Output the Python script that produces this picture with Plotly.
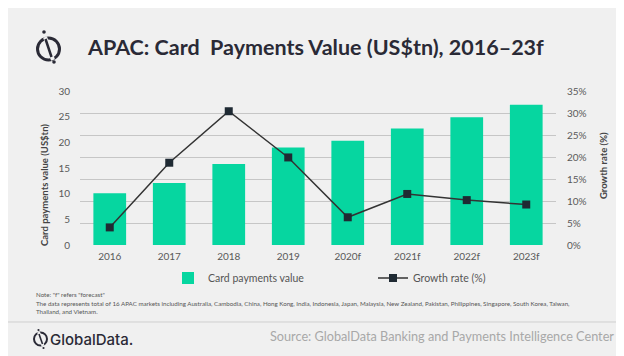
import plotly.graph_objects as go

years = ["2016", "2017", "2018", "2019", "2020f", "2021f", "2022f", "2023f"]
card_value = [10.1, 12.1, 15.8, 19.0, 20.3, 22.7, 24.9, 27.3]
growth_rate = [4.0, 18.7, 30.4, 19.9, 6.3, 11.6, 10.2, 9.2]
left_ticks = [0, 5, 10, 15, 20, 25, 30]
right_ticks = [0, 5, 10, 15, 20, 25, 30, 35]
right_tick_labels = [f"{v}%" for v in right_ticks]

W, H = 624, 356
L, R, T, B = 72, 548, 83, 237
BG = "#f0f0f0"
DARK = "#2a2a36"
FONT = "Lato"


def px(x):
    return (x - L) / (R - L)


def py(y):
    return (B - y) / (B - T)


fig = go.Figure()
fig.add_trace(go.Bar(
    x=years, y=card_value, name="Card payments value",
    marker=dict(color="#06d6a0", line=dict(width=0)), yaxis="y",
))
fig.add_trace(go.Scatter(
    x=years, y=growth_rate, name="Growth rate (%)", mode="lines+markers",
    line=dict(color="#333333", width=1.5),
    marker=dict(symbol="square", size=8, color="#1f2a33"),
    yaxis="y2",
))

tick_font = dict(family=FONT, size=10, color="#595959")

fig.update_layout(
    width=W, height=H,
    margin=dict(l=L, r=W - R, t=T, b=H - B, pad=0),
    paper_bgcolor=BG, plot_bgcolor=BG,
    bargap=0.45,
    showlegend=True,
    legend=dict(
        orientation="h", x=px(160), y=py(270), xanchor="left", yanchor="middle",
        font=dict(family=FONT, size=10.5, color="#555555"),
        bgcolor="rgba(0,0,0,0)", entrywidth=160, entrywidthmode="pixels",
        itemwidth=30, traceorder="normal",
    ),
    xaxis=dict(
        type="category", showgrid=False, zeroline=False, showline=False,
        ticks="", tickfont=tick_font, ticklabelstandoff=4,
    ),
    yaxis=dict(
        range=[0, 30], tickvals=left_ticks, ticktext=[str(v) for v in left_ticks],
        showgrid=False, zeroline=False, showline=False, ticks="",
        tickfont=tick_font, ticklabelstandoff=9,
    ),
    yaxis2=dict(
        range=[0, 35], tickvals=right_ticks, ticktext=right_tick_labels,
        overlaying="y", side="right", showgrid=True, gridcolor="#c6c6c6",
        gridwidth=1, zeroline=False, showline=False, ticks="",
        tickfont=tick_font, ticklabelstandoff=10,
    ),
)


def ann(text, x, y, **kw):
    d = dict(text=text, x=px(x), y=py(y), xref="paper", yref="paper",
             showarrow=False, xanchor="left", yanchor="middle")
    d.update(kw)
    return d


note_font = dict(family=FONT, size=6.2, color="#555555")
annotations = [
    ann("APAC: Card  Payments Value (US$tn), 2016–23f", 77, 39,
        font=dict(family=FONT, size=21.5, color=DARK, weight="bold")),
    ann("Card payments value (US$tn)", 36, 177, textangle=-90, xanchor="center",
        font=dict(family=FONT, size=9.5, color="#444444", weight="bold")),
    ann("Growth rate (%)", 595, 158, textangle=-90, xanchor="center",
        font=dict(family=FONT, size=9.5, color="#444444", weight="bold")),
    ann("Note: \"f\" refers \"forecast\"", 26, 286, font=note_font),
    ann("The data represents total of 16 APAC markets including Australia, Cambodia, China, Hong Kong, India, Indonesia, Japan, Malaysia, New Zealand, Pakistan, Philippines, Singapore, South Korea, Taiwan,",
        26, 295, font=note_font),
    ann("Thailand, and Vietnam.", 26, 303, font=note_font),
    ann("GlobalData.", 40, 331,
        font=dict(family="Inter", size=15, color=DARK, weight=500)),
    ann("Source: GlobalData Banking and Payments Intelligence Center", 608, 328,
        xanchor="right", font=dict(family=FONT, size=12.7, color="#a8a8a8")),
]
fig.update_layout(annotations=annotations)

shapes = []
# top logo icon
cx, cy, r = 40.5, 41, 11
shapes.append(dict(type="circle", xref="paper", yref="paper",
                   x0=px(cx - r), x1=px(cx + r), y0=py(cy + r), y1=py(cy - r),
                   line=dict(color=DARK, width=3)))
shapes.append(dict(type="line", xref="paper", yref="paper",
                   x0=px(37), y0=py(29), x1=px(45), y1=py(52),
                   line=dict(color=BG, width=4)))
shapes.append(dict(type="line", xref="paper", yref="paper",
                   x0=px(37.5), y0=py(31), x1=px(43.5), y1=py(49),
                   line=dict(color=DARK, width=2.5)))
for (dx, dy) in [(36, 24), (46, 54)]:
    shapes.append(dict(type="circle", xref="paper", yref="paper",
                       x0=px(dx - 1.8), x1=px(dx + 1.8), y0=py(dy + 1.8), y1=py(dy - 1.8),
                       fillcolor=DARK, line=dict(width=0)))
# bottom logo icon
bx, by, br = 32.5, 331, 6.5
shapes.append(dict(type="circle", xref="paper", yref="paper",
                   x0=px(bx - br), x1=px(bx + br), y0=py(by + br), y1=py(by - br),
                   line=dict(color=DARK, width=2)))
shapes.append(dict(type="line", xref="paper", yref="paper",
                   x0=px(30.5), y0=py(324), x1=px(35), y1=py(338),
                   line=dict(color=BG, width=3)))
shapes.append(dict(type="line", xref="paper", yref="paper",
                   x0=px(31), y0=py(326), x1=px(34.5), y1=py(336),
                   line=dict(color=DARK, width=1.6)))
for (dx, dy) in [(30.5, 322), (35.5, 340)]:
    shapes.append(dict(type="circle", xref="paper", yref="paper",
                       x0=px(dx - 1.1), x1=px(dx + 1.1), y0=py(dy + 1.1), y1=py(dy - 1.1),
                       fillcolor=DARK, line=dict(width=0)))
# separator line
shapes.append(dict(type="line", xref="paper", yref="paper",
                   x0=px(0), x1=px(624), y0=py(314), y1=py(314),
                   line=dict(color="#cfcfcf", width=1)))
fig.update_layout(shapes=shapes)

fig.write_html("out.html")
